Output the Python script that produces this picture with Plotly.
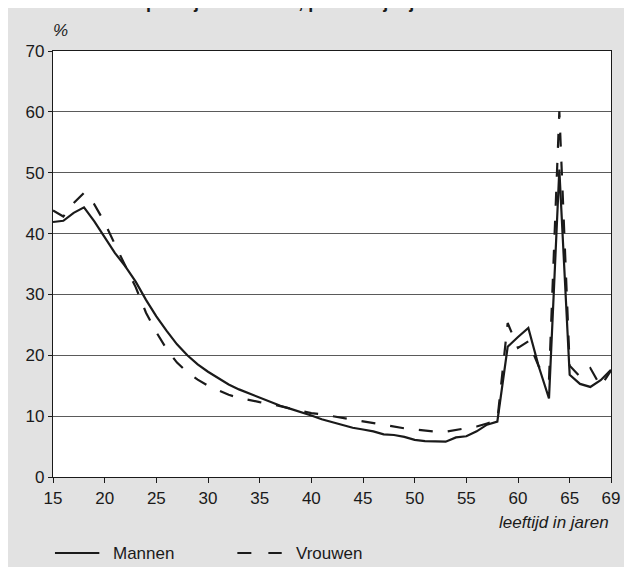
import plotly.graph_objects as go

# leeftijd (jaren) and percentages
ages = list(range(15, 70))

mannen = [41.9, 42.1, 43.4, 44.3, 42.0, 39.5, 36.8, 34.6, 32.1, 29.1,
          26.4, 24.0, 21.8, 20.0, 18.5, 17.3, 16.2, 15.2, 14.4, 13.7,
          13.0, 12.3, 11.7, 11.2, 10.7, 10.1, 9.5, 9.0, 8.6, 8.1,
          7.8, 7.5, 7.0, 6.9, 6.6, 6.1, 5.9, 5.9, 5.8, 6.5,
          6.7, 7.5, 8.6, 9.1, 21.4, 23.0, 24.5, 18.2, 12.9, 50.5,
          16.8, 15.3, 14.8, 15.9, 17.6]

vrouwen = [43.8, 42.8, 45.0, 46.7, 44.8, 41.8, 38.2, 34.8, 31.2, 27.0,
           23.8, 21.0, 18.8, 17.2, 16.0, 15.0, 14.2, 13.5, 13.0, 12.6,
           12.3, 12.0, 11.6, 11.2, 10.8, 10.5, 10.3, 10.0, 9.7, 9.4,
           9.1, 8.8, 8.6, 8.3, 8.0, 7.8, 7.6, 7.45, 7.45, 7.7,
           8.0, 8.3, 8.8, 9.3, 25.3, 21.2, 22.3, 18.2, 16.0, 60.1,
           18.3, 16.5, 17.9, 14.9, 17.5]

x_ticks = [15, 20, 25, 30, 35, 40, 45, 50, 55, 60, 65, 69]
y_ticks = [0, 10, 20, 30, 40, 50, 60, 70]

FONT = "Liberation Sans, Arial, sans-serif"
INK = "#1a1a1a"
GREY = "#e2e2e2"

# the page body adds an 8px margin, so the figure is a bit smaller than the window
OFF = 8
W, H = 632 - OFF, 567 - OFF
L, R, T, B = 53 - OFF, 13, 51 - OFF, 90
pw, ph = W - L - R, H - T - B


def px(x):
    # window pixel -> paper x
    return (x - OFF - L) / pw


def py(y):
    # window pixel -> paper y
    return (H - B - (y - OFF)) / ph


fig = go.Figure()
fig.add_trace(go.Scatter(x=ages, y=mannen, mode="lines", name="Mannen",
                         line=dict(color=INK, width=2.2)))
fig.add_trace(go.Scatter(x=ages, y=vrouwen, mode="lines", name="Vrouwen",
                         line=dict(color=INK, width=2.2, dash="14px,15px")))

shapes = [
    # legend samples
    dict(type="line", xref="paper", yref="paper", x0=px(55), x1=px(100),
         y0=py(553), y1=py(553), line=dict(color=INK, width=2.2)),
    dict(type="line", xref="paper", yref="paper", x0=px(240), x1=px(285),
         y0=py(553), y1=py(553), line=dict(color=INK, width=2.2, dash="14px,17px")),
]

annotations = [
    dict(text="<b>werknemers per 1 januari 2003, per leeftijdsjaar</b>", xref="paper", yref="paper",
         x=px(33), y=py(14), xanchor="left", yanchor="bottom", showarrow=False,
         font=dict(family=FONT, size=18, color=INK)),
    dict(text="<i>%</i>", xref="paper", yref="paper", x=px(61), y=py(31),
         xanchor="center", yanchor="middle", showarrow=False,
         font=dict(family=FONT, size=17, color=INK)),
    dict(text="<i>leeftijd in jaren</i>", xref="paper", yref="paper", x=1, y=py(522),
         xanchor="right", yanchor="middle", showarrow=False,
         font=dict(family=FONT, size=17, color=INK)),
    dict(text="Mannen", xref="paper", yref="paper", x=px(112), y=py(553),
         xanchor="left", yanchor="middle", showarrow=False,
         font=dict(family=FONT, size=17, color=INK)),
    dict(text="Vrouwen", xref="paper", yref="paper", x=px(297), y=py(553),
         xanchor="left", yanchor="middle", showarrow=False,
         font=dict(family=FONT, size=17, color=INK)),
]

fig.update_layout(
    width=W, height=H,
    margin=dict(l=L, r=R, t=T, b=B, pad=0),
    paper_bgcolor=GREY,
    plot_bgcolor="white",
    showlegend=False,
    font=dict(family=FONT, size=17, color=INK),
    shapes=shapes,
    annotations=annotations,
)

fig.update_xaxes(range=[15, 69], tickvals=x_ticks, ticktext=[str(v) for v in x_ticks],
                 showgrid=False, zeroline=False, showline=True, mirror=True,
                 linecolor=INK, linewidth=1.2, ticks="outside", ticklen=5,
                 tickcolor=INK, tickwidth=1)
fig.update_yaxes(range=[0, 70], tickvals=y_ticks, showgrid=True, gridcolor="#5a5a5a",
                 gridwidth=1.3, zeroline=False, showline=True, mirror=True,
                 linecolor=INK, linewidth=1.2, ticks="outside", ticklen=4,
                 tickcolor=INK, tickwidth=1)

fig.write_html("out.html")
